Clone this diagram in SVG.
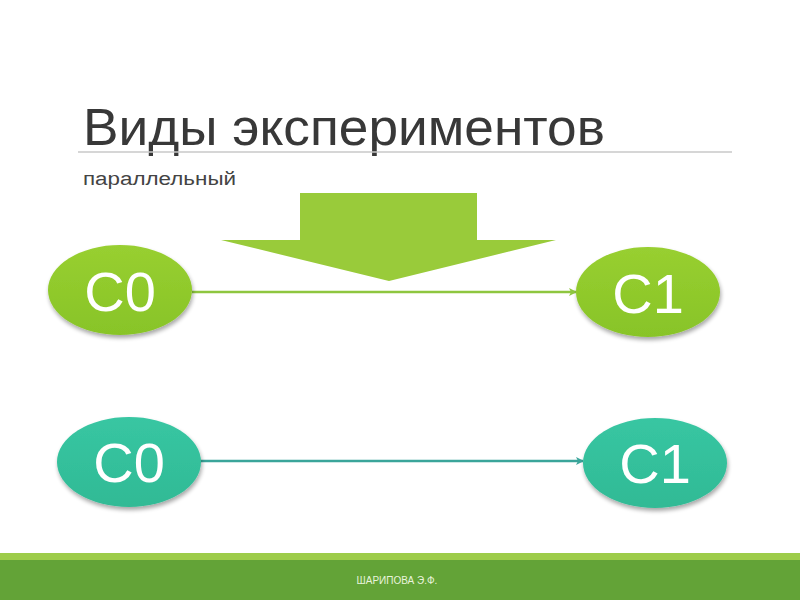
<svg xmlns="http://www.w3.org/2000/svg" width="800" height="600" viewBox="0 0 800 600">
<defs>
<linearGradient id="gG" x1="0" y1="0" x2="0" y2="1"><stop offset="0" stop-color="#98cf30"/><stop offset="1" stop-color="#88c428"/></linearGradient>
<linearGradient id="gT" x1="0" y1="0" x2="0" y2="1"><stop offset="0" stop-color="#38c6a2"/><stop offset="1" stop-color="#30ba95"/></linearGradient>
<filter id="sh" x="-20%" y="-20%" width="140%" height="150%"><feGaussianBlur in="SourceAlpha" stdDeviation="2"/><feOffset dx="1" dy="3"/><feComponentTransfer><feFuncA type="linear" slope="0.35"/></feComponentTransfer><feMerge><feMergeNode/><feMergeNode in="SourceGraphic"/></feMerge></filter>
<marker id="ag" markerWidth="8" markerHeight="8" refX="7" refY="4" orient="auto" markerUnits="userSpaceOnUse"><path d="M0,0 L8,4 L0,8 L2,4 Z" fill="#8ec63f"/></marker>
<marker id="at" markerWidth="8" markerHeight="8" refX="7" refY="4" orient="auto" markerUnits="userSpaceOnUse"><path d="M0,0 L8,4 L0,8 L2,4 Z" fill="#3aa59a"/></marker>
</defs>
<style>
.lbl{font-family:"Liberation Sans",Arial,sans-serif;fill:#fff;font-size:56px;text-anchor:middle}
.title{font-family:"Liberation Sans",Arial,sans-serif;fill:#383838;font-size:52px}
.sub{font-family:"Liberation Sans",Arial,sans-serif;fill:#444;font-size:18px}
.foot{font-family:"Liberation Sans",Arial,sans-serif;fill:#e8f3dc;font-size:10px;text-anchor:middle}
</style>
<rect width="800" height="600" fill="#fff"/>
<text class="title" x="83" y="145" textLength="522" lengthAdjust="spacingAndGlyphs">Виды экспериментов</text>
<line x1="78" y1="152" x2="732" y2="152" stroke="#c8c8c8" stroke-width="1.5"/>
<text class="sub" x="83" y="185" textLength="153" lengthAdjust="spacingAndGlyphs">параллельный</text>
<g id="bigArrow"><path d="M300,193 L477,193 L477,240 L556,240 L389,281 L221,240 L300,240 Z" fill="#99cb3a"/></g>
<g id="connectors">
<line x1="192" y1="292" x2="576" y2="292" stroke="#8ec63f" stroke-width="2.5" marker-end="url(#ag)"/>
<line x1="200" y1="461" x2="583" y2="461" stroke="#3aa59a" stroke-width="2.5" marker-end="url(#at)"/>
</g>
<g id="c0top" filter="url(#sh)"><ellipse cx="120" cy="290" rx="72" ry="45" fill="url(#gG)"/><text class="lbl" x="120" y="311">C0</text></g>
<g id="c1top" filter="url(#sh)"><ellipse cx="648" cy="292" rx="72" ry="45" fill="url(#gG)"/><text class="lbl" x="648" y="313">C1</text></g>
<g id="c0bot" filter="url(#sh)"><ellipse cx="129" cy="462" rx="72" ry="45" fill="url(#gT)"/><text class="lbl" x="129" y="482">C0</text></g>
<g id="c1bot" filter="url(#sh)"><ellipse cx="655" cy="463" rx="72" ry="45" fill="url(#gT)"/><text class="lbl" x="655" y="483">C1</text></g>
<rect x="0" y="553" width="800" height="7" fill="#9dcc4a"/>
<rect x="0" y="560" width="800" height="40" fill="#63a337"/>
<text class="foot" x="397" y="584">ШАРИПОВА Э.Ф.</text>
</svg>
